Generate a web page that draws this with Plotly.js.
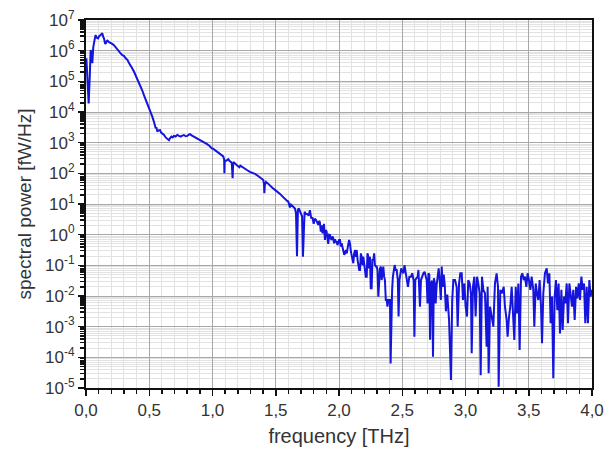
<!DOCTYPE html>
<html>
<head>
<meta charset="utf-8">
<script src="https://cdn.plot.ly/plotly-3.0.1.min.js"></script>
<style>html,body{margin:0;padding:0;background:#fff;}#chart{width:615px;height:453px;}</style>
</head>
<body>
<div id="chart"></div>
<script>
// frequency in THz
const frequency = [
0.003,0.012,0.021,0.030,0.037,0.044,0.050,0.057,0.063,0.070,0.076,0.085,0.095,0.105,0.116,0.129,0.136,0.142,0.150,0.155,
0.162,0.169,0.182,0.195,0.208,0.221,0.235,0.248,0.261,0.274,0.287,0.300,0.314,0.327,0.340,0.353,0.366,0.379,0.392,0.406,
0.419,0.432,0.445,0.458,0.471,0.485,0.498,0.511,0.524,0.537,0.545,0.551,0.556,0.560,0.564,0.572,0.585,0.594,0.603,0.617,
0.630,0.643,0.656,0.665,0.675,0.685,0.695,0.708,0.722,0.735,0.748,0.761,0.774,0.788,0.801,0.812,0.822,0.835,0.853,0.870,
0.893,0.910,0.930,0.954,0.975,0.993,1.012,1.033,1.050,1.072,1.085,1.092,1.094,1.097,1.107,1.115,1.125,1.135,1.144,1.152,
1.159,1.163,1.170,1.180,1.191,1.200,1.212,1.220,1.230,1.243,1.257,1.275,1.296,1.315,1.336,1.355,1.375,1.390,1.402,1.407,
1.410,1.414,1.423,1.435,1.454,1.475,1.494,1.515,1.534,1.553,1.573,1.590,1.599,1.606,1.612,1.620,1.634,1.645,1.652,1.660,
1.668,1.675,1.681,1.690,1.699,1.708,1.715,1.722,1.728,1.738,1.749,1.760,1.770,1.780,1.791,1.800,1.808,1.818,1.827,1.836,
1.843,1.849,1.856,1.863,1.870,1.876,1.881,1.889,1.895,1.902,1.909,1.915,1.922,1.929,1.935,1.942,1.948,1.955,1.961,1.968,
1.975,1.981,1.988,1.995,2.001,2.008,2.015,2.021,2.028,2.034,2.041,2.047,2.054,2.061,2.067,2.074,2.080,2.087,2.094,2.100,
2.107,2.113,2.120,2.127,2.133,2.140,2.147,2.153,2.160,2.166,2.173,2.179,2.186,2.192,2.199,2.205,2.212,2.219,2.225,2.232,
2.238,2.245,2.251,2.258,2.264,2.271,2.278,2.284,2.291,2.298,2.304,2.311,2.318,2.324,2.331,2.337,2.344,2.350,2.357,2.363,
2.370,2.377,2.383,2.390,2.397,2.403,2.408,2.414,2.420,2.426,2.432,2.440,2.448,2.456,2.465,2.471,2.478,2.484,2.492,2.500,
2.509,2.518,2.535,2.545,2.556,2.569,2.579,2.590,2.596,2.603,2.615,2.622,2.628,2.634,2.640,2.648,2.656,2.667,2.677,2.685,
2.693,2.700,2.707,2.714,2.720,2.727,2.736,2.743,2.750,2.758,2.764,2.772,2.780,2.788,2.796,2.805,2.812,2.820,2.828,2.836,
2.845,2.856,2.870,2.885,2.895,2.904,2.917,2.930,2.938,2.949,2.959,2.970,2.980,2.991,3.001,3.012,3.022,3.033,3.043,3.049,
3.059,3.070,3.080,3.091,3.101,3.112,3.120,3.130,3.141,3.154,3.167,3.175,3.183,3.194,3.207,3.220,3.233,3.246,3.257,3.262,
3.275,3.289,3.302,3.312,3.325,3.333,3.344,3.354,3.365,3.375,3.386,3.397,3.407,3.418,3.428,3.439,3.449,3.460,3.470,3.481,
3.491,3.502,3.513,3.523,3.536,3.544,3.555,3.565,3.576,3.586,3.597,3.605,3.615,3.628,3.642,3.652,3.663,3.673,3.684,3.694,
3.705,3.715,3.726,3.736,3.747,3.758,3.768,3.779,3.789,3.800,3.810,3.821,3.831,3.842,3.852,3.863,3.874,3.884,3.895,3.905,
3.916,3.926,3.937,3.947,3.958,3.968,3.979,3.989,4.000
];
// spectral power, read as log10 of fW/Hz
const log10Power = [
5.75,4.80,4.28,5.20,6.02,5.90,5.59,6.10,6.35,6.40,6.51,6.42,6.40,6.48,6.51,6.57,6.45,6.40,6.25,6.22,
6.30,6.33,6.28,6.26,6.22,6.18,6.10,6.04,5.97,5.91,5.85,5.83,5.75,5.70,5.60,5.53,5.42,5.32,5.20,5.10,
4.98,4.83,4.70,4.55,4.42,4.28,4.13,4.00,3.85,3.68,3.55,3.47,3.50,3.38,3.36,3.40,3.41,3.33,3.30,3.25,
3.17,3.13,3.08,3.15,3.20,3.17,3.22,3.20,3.25,3.22,3.20,3.23,3.25,3.21,3.22,3.26,3.28,3.24,3.20,3.15,
3.11,3.06,3.02,2.96,2.90,2.82,2.78,2.71,2.66,2.60,2.55,2.46,2.00,2.40,2.41,2.44,2.46,2.40,2.38,2.35,
1.84,2.30,2.35,2.30,2.27,2.24,2.20,2.25,2.22,2.18,2.13,2.10,2.05,2.02,1.98,1.93,1.87,1.83,1.78,1.65,
1.35,1.62,1.72,1.68,1.59,1.52,1.46,1.40,1.33,1.25,1.16,1.10,1.08,0.95,0.89,0.98,0.93,0.88,0.85,0.70,
-0.70,0.80,0.86,0.78,0.70,0.60,-0.72,0.70,0.75,0.68,0.67,0.62,0.80,0.55,0.54,0.35,0.52,0.48,0.40,0.32,
0.45,0.40,0.10,0.30,0.04,0.21,0.35,-0.17,0.15,0.10,-0.05,-0.30,0.00,-0.01,-0.12,-0.17,-0.06,-0.12,-0.28,-0.15,
-0.23,-0.23,-0.34,-0.20,-0.17,-0.17,-0.39,-0.28,-0.45,-0.50,-0.66,-0.61,-0.50,-0.61,-0.39,-0.30,-0.17,-0.30,-0.55,-0.72,
-0.93,-0.93,-0.61,-0.50,-0.72,-0.50,-0.83,-0.99,-1.15,-1.15,-0.61,-0.72,-0.99,-0.72,-1.04,-1.20,-1.37,-1.37,-0.61,-0.72,
-1.10,-0.72,-1.75,-1.75,-0.83,-0.83,-0.61,-0.99,-1.04,-1.04,-1.15,-2.02,-1.15,-1.10,-1.04,-1.48,-1.26,-1.04,-1.37,-1.48,
-2.13,-2.13,-2.35,-2.13,-2.13,-2.13,-4.20,-1.91,-1.80,-1.37,-1.10,-0.99,-1.15,-1.15,-1.48,-2.67,-1.48,-1.26,-1.10,-1.20,
-1.26,-0.99,-1.37,-1.70,-1.37,-1.37,-1.26,-1.50,-3.33,-1.48,-1.40,-1.37,-1.15,-1.60,-2.35,-1.48,-1.37,-1.26,-1.21,-1.40,
-1.48,-2.24,-1.26,-1.30,-3.43,-1.59,-1.50,-3.98,-1.42,-1.60,-2.24,-1.64,-1.30,-1.10,-1.50,-2.13,-1.04,-1.70,-1.30,-1.64,
-2.50,-1.95,-2.78,-4.74,-2.13,-1.48,-1.48,-1.70,-3.00,-1.59,-1.26,-1.26,-2.13,-1.59,-2.35,-2.67,-1.48,-1.59,-1.91,-3.87,
-1.70,-1.37,-2.67,-1.37,-1.59,-1.91,-4.58,-1.37,-1.80,-1.91,-3.65,-1.70,-4.52,-2.35,-2.67,-3.00,-1.59,-1.26,-1.70,-4.96,
-1.80,-1.91,-1.70,-2.35,-2.78,-3.33,-2.67,-2.35,-1.70,-2.35,-3.43,-1.70,-2.57,-1.59,-3.76,-1.37,-1.26,-1.48,-1.37,-1.70,
-1.26,-1.48,-1.80,-1.37,-1.80,-3.00,-1.59,-1.91,-2.13,-1.48,-2.35,-3.54,-1.91,-1.26,-1.10,-1.59,-1.26,-2.89,-2.02,-4.68,
-2.02,-1.48,-2.46,-1.59,-3.22,-1.80,-3.11,-2.02,-2.24,-1.59,-2.89,-1.59,-1.91,-2.35,-1.80,-2.78,-1.70,-2.08,-1.59,-2.13,
-1.37,-1.80,-1.59,-2.89,-1.70,-2.89,-1.48,-2.02,-1.80
];
const xTickValues = [0, 0.5, 1, 1.5, 2, 2.5, 3, 3.5, 4];
const yTickExponents = [-5, -4, -3, -2, -1, 0, 1, 2, 3, 4, 5, 6, 7];
const xTitle = "frequency [THz]";
const yTitle = "spectral power [fW/Hz]";

const power = log10Power.map(v => Math.pow(10, v));
const yTickValues = yTickExponents.map(e => Math.pow(10, e));
const yTickText = yTickExponents.map(e => "10<sup>" + e + "</sup>");

const font = {family: "Liberation Sans, Arial, sans-serif", size: 17, color: "#333"};

Plotly.newPlot("chart", [{
  x: frequency, y: power, type: "scatter", mode: "lines",
  line: {color: "#1414dc", width: 2}, hoverinfo: "skip"
}], {
  width: 615, height: 453,
  margin: {l: 86, r: 23, t: 20, b: 65},
  paper_bgcolor: "#fff", plot_bgcolor: "#fff",
  separators: ", ",
  showlegend: false,
  font: font,
  xaxis: {
    range: [0, 4], tickvals: xTickValues, tickformat: ".1f",
    ticks: "outside", ticklen: 6, tickwidth: 1.5, tickcolor: "#111",
    showline: true, linecolor: "#111", linewidth: 2, mirror: true,
    showgrid: true, gridcolor: "#a8a8a8", gridwidth: 1,
    zeroline: false,
    minor: {dtick: 0.1, ticks: "outside", ticklen: 4, tickcolor: "#111", showgrid: true, gridcolor: "#e2e2e2"},
    tickfont: {size: 17, color: "#333"},
    title: {text: xTitle, font: {size: 20, color: "#333"}, standoff: 10}
  },
  yaxis: {
    type: "log", range: [-5, 7], tickvals: yTickValues, ticktext: yTickText,
    ticks: "outside", ticklen: 6, tickwidth: 1.5, tickcolor: "#111",
    showline: true, linecolor: "#111", linewidth: 2, mirror: true,
    showgrid: true, gridcolor: "#a8a8a8", gridwidth: 1,
    zeroline: false,
    minor: {dtick: "D1", ticks: "outside", ticklen: 4, tickcolor: "#111", showgrid: true, gridcolor: "#e2e2e2"},
    tickfont: {size: 17, color: "#333"},
    title: {text: yTitle, font: {size: 19, color: "#333"}, standoff: 8}
  }
}, {staticPlot: true, displayModeBar: false});
</script>
</body>
</html>
